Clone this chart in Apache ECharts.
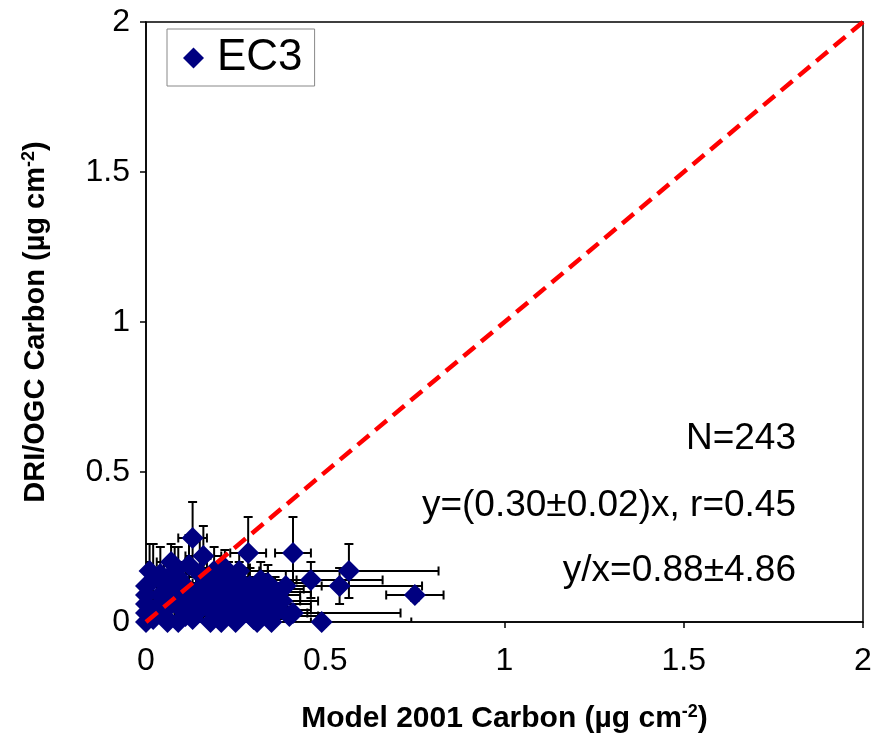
<!DOCTYPE html>
<html>
<head>
<meta charset="utf-8">
<script src="https://cdn.jsdelivr.net/npm/echarts@6/dist/echarts.min.js"></script>
<style>html,body{margin:0;padding:0;background:#fff}#c{width:875px;height:741px}</style>
</head>
<body>
<div id="c"></div>
<script>
// Model 2001 carbon (x), DRI/OGC carbon (y), and their uncertainties
const modelX = [0.00,0.00,0.00,0.00,0.00,0.01,0.02,0.03,0.04,0.05,0.05,0.07,0.07,0.08,0.09,0.09,0.10,0.11,0.12,0.12,0.13,0.13,0.14,0.15,0.15,0.16,0.17,0.17,0.18,0.19,0.19,0.20,0.21,0.22,0.22,0.23,0.24,0.24,0.25,0.26,0.26,0.27,0.28,0.285,0.29,0.30,0.30,0.31,0.32,0.33,0.33,0.34,0.35,0.36,0.37,0.39,0.40,0.41,0.41,0.46,0.49,0.54,0.566,0.75,0.02,0.06,0.10,0.14,0.16,0.18,0.20,0.21,0.23,0.25,0.27,0.29,0.31,0.32,0.34,0.38,0.04,0.08,0.11,0.26,0.22];
const driY   = [0.00,0.03,0.06,0.09,0.12,0.17,0.01,0.05,0.09,0.13,0.02,0.20,0.06,0.10,0.00,0.15,0.04,0.12,0.07,0.19,0.28,0.01,0.10,0.16,0.04,0.22,0.07,0.13,0.00,0.10,0.17,0.05,0.13,0.02,0.08,0.15,0.11,0.05,0.00,0.09,0.14,0.03,0.07,0.23,0.12,0.01,0.05,0.09,0.14,0.03,0.11,0.06,0.00,0.10,0.04,0.12,0.02,0.23,0.03,0.14,0.00,0.12,0.17,0.09,0.14,0.00,0.09,0.05,0.09,0.04,0.11,0.00,0.06,0.12,0.10,0.04,0.00,0.07,0.13,0.07,0.16,0.17,0.02,0.17,0.18];
const errX   = [0.02,0.02,0.03,0.02,0.03,0.03,0.03,0.04,0.03,0.04,0.03,0.04,0.05,0.04,0.05,0.05,0.05,0.05,0.06,0.04,0.04,0.06,0.06,0.05,0.07,0.05,0.06,0.07,0.07,0.08,0.06,0.07,0.08,0.08,0.07,0.09,0.08,0.09,0.08,0.10,0.08,0.09,0.10,0.05,0.10,0.11,0.09,0.12,0.10,0.12,0.11,0.12,0.11,0.10,0.09,0.10,0.08,0.05,0.30,0.20,0.25,0.23,0.25,0.08,0.02,0.04,0.06,0.05,0.06,0.06,0.07,0.08,0.08,0.09,0.10,0.09,0.10,0.11,0.12,0.10,0.03,0.05,0.05,0.08,0.07];
const errY   = [0.03,0.05,0.06,0.07,0.08,0.09,0.04,0.05,0.06,0.07,0.04,0.06,0.05,0.06,0.03,0.10,0.05,0.08,0.06,0.10,0.12,0.04,0.07,0.12,0.05,0.10,0.06,0.08,0.03,0.07,0.08,0.05,0.06,0.04,0.06,0.05,0.06,0.05,0.03,0.05,0.06,0.04,0.05,0.12,0.06,0.03,0.04,0.05,0.06,0.04,0.05,0.05,0.03,0.05,0.04,0.05,0.03,0.12,0.03,0.06,0.03,0.06,0.09,0.02,0.12,0.03,0.08,0.05,0.06,0.04,0.06,0.03,0.04,0.05,0.05,0.04,0.03,0.05,0.06,0.05,0.09,0.08,0.04,0.06,0.06];
const tickLabels = ['0','0.5','1','1.5','2'];
const oneToOne = [[0,0],[2,2]];
const seriesName = 'EC3';
const statsText = ['N=243','y=(0.30\u00b10.02)x, r=0.45','y/x=0.88\u00b14.86'];

const points = modelX.map((x,i)=>[x, driY[i]]);
const errData = modelX.map((x,i)=>[x, driY[i], errX[i], errY[i]]);

const chart = echarts.init(document.getElementById('c'), null, {renderer:'canvas'});
const font = 'Arial, "Liberation Sans", Helvetica, sans-serif';
const cap = 4.5;
const titleRich = {
  a:{fontFamily:font,fontSize:30,fontWeight:'bold',color:'#000'},
  s:{fontFamily:font,fontSize:18,fontWeight:'bold',color:'#000',verticalAlign:'top',padding:[0,0,14,0]}
};
const titleRichY = {
  a:{fontFamily:font,fontSize:29,fontWeight:'bold',color:'#000'},
  s:{fontFamily:font,fontSize:18,fontWeight:'bold',color:'#000',verticalAlign:'top',padding:[0,0,14,0]}
};
chart.setOption({
  animation:false,
  backgroundColor:'#fff',
  grid:{left:146,right:12,top:22,bottom:119,show:true,borderColor:'#000',borderWidth:1.5},
  legend:{
    show:true,left:167,top:29,orient:'vertical',
    data:[{name:seriesName,icon:'diamond'}],
    itemWidth:21,itemHeight:21,itemGap:6,
    padding:[7,12,6,16],
    borderColor:'#888',borderWidth:1,backgroundColor:'#fff',
    textStyle:{fontFamily:font,fontSize:44,color:'#000',padding:[0,0,0,8]}
  },
  xAxis:{
    type:'value',min:0,max:2,interval:0.5,
    axisLine:{lineStyle:{color:'#000',width:1.5}},
    axisTick:{show:true,inside:false,length:6,lineStyle:{color:'#000',width:1.5}},
    splitLine:{show:false},
    axisLabel:{fontFamily:font,fontSize:32,color:'#000',margin:23,
      formatter:(v)=>tickLabels[Math.round(v/0.5)]},
    name:'{a|Model 2001 Carbon (\u00b5g cm}{s|-2}{a|)}',
    nameLocation:'middle',nameGap:81,
    nameTextStyle:{rich:titleRich}
  },
  yAxis:{
    type:'value',min:0,max:2,interval:0.5,
    axisLine:{lineStyle:{color:'#000',width:1.5}},
    axisTick:{show:true,inside:false,length:6,lineStyle:{color:'#000',width:1.5}},
    splitLine:{show:false},
    axisLabel:{fontFamily:font,fontSize:32,color:'#000',margin:16,
      formatter:(v)=>tickLabels[Math.round(v/0.5)]},
    name:'{a|DRI/OGC Carbon (\u00b5g cm}{s|-2}{a|)}',
    nameLocation:'middle',nameGap:94,
    nameTextStyle:{rich:titleRichY}
  },
  series:[
    {
      type:'custom',name:'err',z:1,clip:true,
      data:errData,
      renderItem:(params,api)=>{
        const x=api.value(0),y=api.value(1),ex=api.value(2),ey=api.value(3);
        const pL=api.coord([x-ex,y]),pR=api.coord([x+ex,y]);
        const pB=api.coord([x,y-ey]),pT=api.coord([x,y+ey]);
        const st={stroke:'#000',lineWidth:2};
        return {type:'group',children:[
          {type:'line',shape:{x1:pL[0],y1:pL[1],x2:pR[0],y2:pR[1]},style:st},
          {type:'line',shape:{x1:pL[0],y1:pL[1]-cap,x2:pL[0],y2:pL[1]+cap},style:st},
          {type:'line',shape:{x1:pR[0],y1:pR[1]-cap,x2:pR[0],y2:pR[1]+cap},style:st},
          {type:'line',shape:{x1:pB[0],y1:pB[1],x2:pT[0],y2:pT[1]},style:st},
          {type:'line',shape:{x1:pB[0]-cap,y1:pB[1],x2:pB[0]+cap,y2:pB[1]},style:st},
          {type:'line',shape:{x1:pT[0]-cap,y1:pT[1],x2:pT[0]+cap,y2:pT[1]},style:st}
        ]};
      }
    },
    {
      type:'scatter',name:seriesName,z:2,data:points,
      symbol:'diamond',symbolSize:22,
      itemStyle:{color:'#000080',opacity:1}
    },
    {
      type:'line',name:'1:1',z:3,data:oneToOne,symbol:'none',
      lineStyle:{color:'#ff0000',width:4.5,type:[15,8]}
    }
  ],
  graphic:[
    {type:'text',right:79,top:420,style:{text:statsText[0],font:'37px '+font,fill:'#000',textAlign:'right'}},
    {type:'text',right:79,top:487,style:{text:statsText[1],font:'37px '+font,fill:'#000',textAlign:'right'}},
    {type:'text',right:79,top:552,style:{text:statsText[2],font:'37px '+font,fill:'#000',textAlign:'right'}}
  ]
});
</script>
</body>
</html>
